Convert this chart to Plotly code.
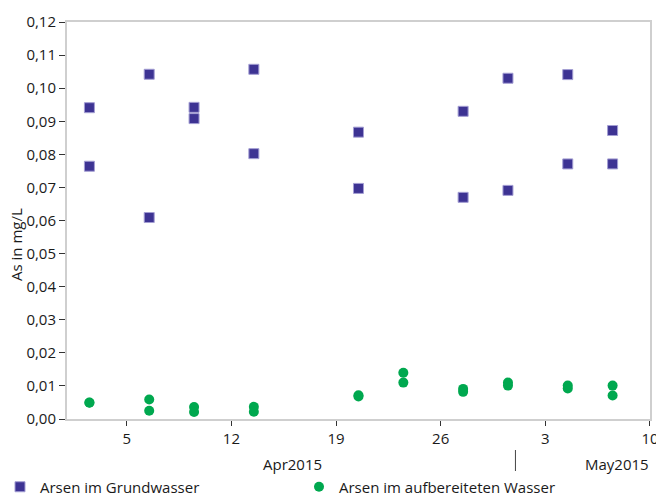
import plotly.graph_objects as go

# ---- data ----
sample_dates = ["2015-04-02 12:00", "2015-04-06 12:00", "2015-04-09 12:00", "2015-04-13 12:00",
                "2015-04-20 12:00", "2015-04-27 12:00", "2015-04-30 12:00", "2015-05-04 12:00",
                "2015-05-07 12:00"]
gw_high = [0.0941, 0.1042, 0.0942, 0.1057, 0.0867, 0.0930, 0.1030, 0.1041, 0.0872]
gw_low = [0.0764, 0.0609, 0.0908, 0.0802, 0.0697, 0.0670, 0.0691, 0.0771, 0.0771]
gw_extra_dates = ["2015-04-06 00:00"]
gw_extra_values = [0.1226]

treated_dates = ["2015-04-02 12:00", "2015-04-06 12:00", "2015-04-09 12:00", "2015-04-13 12:00",
                 "2015-04-20 12:00", "2015-04-23 12:00", "2015-04-27 12:00", "2015-04-30 12:00",
                 "2015-05-04 12:00", "2015-05-07 12:00"]
tw_high = [0.0050, 0.0059, 0.0036, 0.0037, 0.0072, 0.0140, 0.0091, 0.0110, 0.0101, 0.0101]
tw_low = [0.0049, 0.0025, 0.0021, 0.0022, 0.0068, 0.0110, 0.0082, 0.0101, 0.0092, 0.0071]

x_tickvals = ["2015-04-05", "2015-04-12", "2015-04-19", "2015-04-26", "2015-05-03", "2015-05-10"]
x_ticktext = ["5", "12", "19", "26", "3", "10"]
month_labels = ["Apr2015", "May2015"]
month_label_pos = ["2015-04-16 02:00", "2015-05-07 19:00"]
month_boundary = "2015-05-01"

series_names = ["Arsen im Grundwasser", "Arsen im aufbereiteten Wasser"]
y_title = "As in mg/L"

FONT = "Open Sans, Noto Sans, sans-serif"
TXT = "#1a1a1a"
FS = 15

W, H = 656, 496
ML, MR, MT, MB = 67, 6, 22, 77
PW = W - ML - MR
PH = H - MT - MB


def px_to_paper_x(px):
    return (px - ML) / PW


def px_to_paper_y(py):
    return (H - MB - py) / PH


gw_x = sample_dates + sample_dates + gw_extra_dates
gw_y = gw_high + gw_low + gw_extra_values
tw_x = treated_dates + treated_dates
tw_y = tw_high + tw_low

fig = go.Figure()
fig.add_trace(go.Scatter(
    x=gw_x, y=gw_y, mode="markers", name=series_names[0], legend="legend",
    marker=dict(symbol="square", size=10, color="#3d3393",
                line=dict(color="#a39ed3", width=1)),
))
fig.add_trace(go.Scatter(
    x=tw_x, y=tw_y, mode="markers", name=series_names[1], legend="legend2",
    marker=dict(symbol="circle", size=10, color="#00a84f", line=dict(width=0)),
))

leg_common = dict(orientation="h", xanchor="left", y=px_to_paper_y(487), yanchor="middle",
                  font=dict(family=FONT, size=FS, color=TXT),
                  bgcolor="rgba(0,0,0,0)", itemclick=False, itemdoubleclick=False)

fig.update_layout(
    width=W, height=H,
    margin=dict(l=ML, r=MR, t=MT, b=MB, autoexpand=False),
    paper_bgcolor="white", plot_bgcolor="white",
    separators=",.",
    font=dict(family=FONT, size=FS, color=TXT),
    showlegend=True,
    legend=dict(x=px_to_paper_x(0), **leg_common),
    legend2=dict(x=px_to_paper_x(299), **leg_common),
    xaxis=dict(
        type="date", range=["2015-04-01", "2015-05-10 00:03"],
        tickmode="array", tickvals=x_tickvals, ticktext=x_ticktext,
        ticks="outside", ticklen=5, tickwidth=1, tickcolor="#333",
        showline=True, linecolor="#cfcfcf", linewidth=2, mirror=True,
        showgrid=False, zeroline=False, automargin=False,
        ticklabeloverflow="allow",
        tickfont=dict(family=FONT, size=FS, color=TXT),
    ),
    yaxis=dict(
        range=[0, 0.12], dtick=0.01, tick0=0, tickformat=".2f",
        ticks="outside", ticklen=6, tickwidth=1, tickcolor="#333",
        showline=True, linecolor="#cfcfcf", linewidth=2, mirror=True,
        showgrid=False, zeroline=False, automargin=False,
        tickfont=dict(family=FONT, size=FS, color=TXT),
    ),
)

# y-axis title
fig.add_annotation(text=y_title, xref="paper", yref="paper", x=px_to_paper_x(16),
                   y=px_to_paper_y(245), xanchor="center", yanchor="middle", textangle=-90,
                   showarrow=False, borderpad=0, font=dict(family=FONT, size=FS, color=TXT))

# month labels
for lbl, pos in zip(month_labels, month_label_pos):
    fig.add_annotation(text=lbl, xref="x", yref="paper", x=pos, y=px_to_paper_y(464),
                       xanchor="center", yanchor="middle", showarrow=False,
                       font=dict(family=FONT, size=FS, color=TXT))

# month separator
fig.add_shape(type="line", xref="x", yref="paper", x0=month_boundary, x1=month_boundary,
              y0=px_to_paper_y(450), y1=px_to_paper_y(471), line=dict(color="#444", width=1))

fig.write_html("out.html", config={"displayModeBar": False},
               post_script="document.body.style.margin='0';document.body.style.overflow='hidden';")
